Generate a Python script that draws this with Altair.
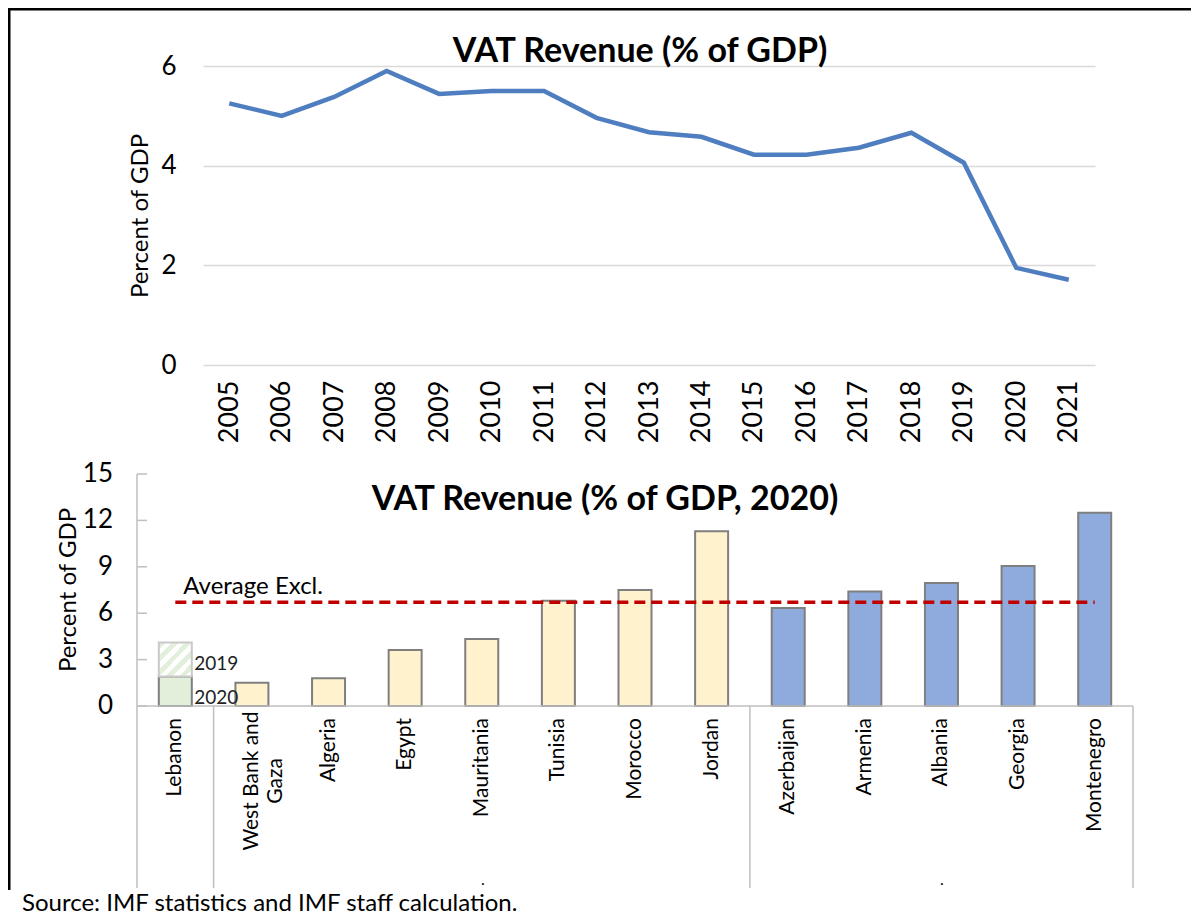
import altair as alt
import pandas as pd

# ---------------- data ----------------
years = [str(y) for y in range(2005, 2022)]
vat_gdp = [5.25, 5.0, 5.38, 5.9, 5.44, 5.5, 5.5, 4.96, 4.67, 4.58, 4.22, 4.22, 4.36, 4.66, 4.06, 1.95, 1.71]

countries = ["Lebanon", "West Bank and Gaza", "Algeria", "Egypt", "Mauritania", "Tunisia",
             "Morocco", "Jordan", "Azerbaijan", "Armenia", "Albania", "Georgia", "Montenegro"]
country_labels = ["Lebanon", "West Bank and\nGaza", "Algeria", "Egypt", "Mauritania", "Tunisia",
                  "Morocco", "Jordan", "Azerbaijan", "Armenia", "Albania", "Georgia", "Montenegro"]
vat_2020 = [1.9, 1.5, 1.8, 3.62, 4.33, 6.8, 7.5, 11.3, 6.33, 7.4, 7.95, 9.05, 12.5]
groups = ["Lebanon", "MENA", "MENA", "MENA", "MENA", "MENA", "MENA", "MENA",
          "Other", "Other", "Other", "Other", "Other"]
lebanon_2019 = 4.1
average_excl = 6.7
bottom_ticks = [0, 3, 6, 9, 12, 15]
left_separators = ["Lebanon", "West Bank and Gaza", "Azerbaijan"]
right_separators = ["Montenegro"]
two_line_label = "West Bank and Gaza"

top_df = pd.DataFrame({"year": years, "value": vat_gdp})
bar_df = pd.DataFrame({"country": countries, "label": country_labels, "value": vat_2020, "group": groups})
tick_df = pd.DataFrame({"tick": bottom_ticks, "t": [str(t) for t in bottom_ticks]})

W, H = 1183, 907
FONT = "Lato"

# ---------------- top chart ----------------
tx = alt.Scale(type="point", domain=years, range=[195, 1087], padding=0.5)
ty = alt.Scale(domain=[0, 6], range=[357, 58], nice=False)

top_line = alt.Chart(top_df).mark_line(color="#4F7EC0", strokeWidth=4.5).encode(
    x=alt.X("year:N", sort=years, scale=tx,
            axis=alt.Axis(orient="bottom", offset=357 - H, title=None, domain=False, ticks=False,
                          labelAngle=-90, labelFontSize=27, labelPadding=15, grid=False,
                          labelOverlap=False)),
    y=alt.Y("value:Q", scale=ty,
            axis=alt.Axis(orient="left", offset=-195, values=[0, 2, 4, 6], domain=False, ticks=False,
                          grid=True, gridColor="#D9D9D9", gridWidth=1.5, labelFontSize=26,
                          labelPadding=27, title="Percent of GDP", titleFontSize=24,
                          titlePadding=8, titleFontWeight="normal")),
)

top_title = alt.Chart(alt.Data(values=[{"t": "VAT Revenue (% of GDP)"}])).mark_text(
    font=FONT, fontSize=34, fontWeight="bold", align="center", baseline="alphabetic", color="black"
).encode(x=alt.value(632), y=alt.value(54), text="t:N")

top = alt.layer(top_line, top_title)

# ---------------- bottom chart ----------------
bx = alt.Scale(type="band", domain=countries, range=[129, 1125], paddingInner=0, paddingOuter=0)
by = alt.Scale(domain=[0, 15], range=[698, 466], nice=False)

hidden_x = alt.Axis(orient="bottom", offset=698 - H, title=None, labels=False, domain=False,
                    ticks=False, grid=False)
hidden_y = alt.Axis(orient="left", offset=-129, title=None, labels=False, domain=False,
                    ticks=False, grid=False)

bars = alt.Chart(bar_df).mark_bar(size=33, stroke="#7F7F7F", strokeWidth=2).encode(
    x=alt.X("country:N", sort=countries, scale=bx, axis=hidden_x),
    y=alt.Y("value:Q", scale=by, axis=hidden_y),
    color=alt.Color("group:N", scale=alt.Scale(domain=["Lebanon", "MENA", "Other"],
                                               range=["#E2EFDA", "#FFF2CC", "#8FAADC"]), legend=None),
)

stops = []
n = 5
for i in range(n):
    a, b, c = i / n, (i + 0.5) / n, (i + 1) / n
    stops += [{"offset": a, "color": "#E2EFDA"}, {"offset": b, "color": "#E2EFDA"},
              {"offset": b, "color": "#FFFFFF"}, {"offset": c, "color": "#FFFFFF"}]
hatch = {"gradient": "linear", "x1": 0, "y1": 0, "x2": 1, "y2": 1, "stops": stops}

leb19 = alt.Chart(alt.Data(values=[{"country": "Lebanon", "value": vat_2020[0], "v19": lebanon_2019}])).mark_bar(
    size=33, fill=hatch, stroke="#C9C9C9", strokeWidth=2
).encode(
    x=alt.X("country:N", sort=countries, scale=bx, axis=None),
    y=alt.Y("value:Q", scale=by, axis=None),
    y2="v19:Q",
)

avg_line = alt.Chart(bar_df).mark_line(color="#C00000", strokeWidth=3.5, strokeDash=[11, 6]).encode(
    x=alt.X("country:N", sort=countries, scale=bx, axis=None),
    y=alt.datum(average_excl, scale=by),
)

avg_text = alt.Chart(alt.Data(values=[{"country": "Lebanon", "value": average_excl, "t": "Average Excl."}])).mark_text(
    font=FONT, fontSize=24, align="left", baseline="alphabetic", dx=8, dy=-8, color="black"
).encode(
    x=alt.X("country:N", sort=countries, scale=bx, axis=None),
    y=alt.Y("value:Q", scale=by, axis=None),
    text="t:N",
)

year_labels = alt.Chart(alt.Data(values=[
    {"country": "Lebanon", "value": lebanon_2019, "t": "2019"},
    {"country": "Lebanon", "value": vat_2020[0], "t": "2020"},
])).mark_text(font=FONT, fontSize=19, align="left", baseline="middle", dx=19, dy=21, color="#222222").encode(
    x=alt.X("country:N", sort=countries, scale=bx, axis=None),
    y=alt.Y("value:Q", scale=by, axis=None),
    text="t:N",
)

# y axis drawn from the y scale
tick_rules = alt.Chart(tick_df).mark_rule(color="#BFBFBF", strokeWidth=1.5).encode(
    y=alt.Y("tick:Q", scale=by, axis=None),
    x=alt.value(129), x2=alt.value(139),
)
tick_labels = alt.Chart(tick_df).mark_text(
    font=FONT, fontSize=26, align="right", baseline="middle", color="black"
).encode(y=alt.Y("tick:Q", scale=by, axis=None), x=alt.value(105), text="t:N")
y_domain = alt.Chart(alt.Data(values=[{"a": bottom_ticks[0], "b": bottom_ticks[-1]}])).mark_rule(
    color="#BFBFBF", strokeWidth=1.5
).encode(y=alt.Y("a:Q", scale=by, axis=None), y2="b:Q", x=alt.value(129))
y_title = alt.Chart(alt.Data(values=[{"t": "Percent of GDP"}])).mark_text(
    font=FONT, fontSize=24, angle=270, align="center", baseline="middle", color="black"
).encode(x=alt.value(61), y=alt.value(582), text="t:N")

# x axis drawn from the x scale
x_domain = alt.Chart(alt.Data(values=[{"a": 0}])).mark_rule(color="#BFBFBF", strokeWidth=1.5).encode(
    y=alt.Y("a:Q", scale=by, axis=None), x=alt.value(129), x2=alt.value(1125))
x_labels = alt.Chart(bar_df).transform_filter(
    alt.datum.country != two_line_label
).mark_text(
    font=FONT, fontSize=21, angle=270, align="right", baseline="middle", color="black"
).encode(x=alt.X("country:N", sort=countries, scale=bx, axis=None), y=alt.value(710), text="label:N")
x_label_two = alt.Chart(bar_df).transform_filter(
    alt.datum.country == two_line_label
).mark_text(
    font=FONT, fontSize=21, angle=270, align="center", baseline="middle", lineBreak="\n",
    lineHeight=24, color="black"
).encode(x=alt.X("country:N", sort=countries, scale=bx, axis=None), y=alt.value(773), text="label:N")

sep_left = alt.Chart(alt.Data(values=[{"country": c} for c in left_separators])).mark_rule(
    color="#BFBFBF", strokeWidth=1.5
).encode(
    x=alt.X("country:N", sort=countries, scale=bx, axis=None, bandPosition=0),
    y=alt.value(698), y2=alt.value(880),
)
sep_right = alt.Chart(alt.Data(values=[{"country": c} for c in right_separators])).mark_rule(
    color="#BFBFBF", strokeWidth=1.5
).encode(
    x=alt.X("country:N", sort=countries, scale=bx, axis=None, bandPosition=1),
    y=alt.value(698), y2=alt.value(880),
)

bottom_title = alt.Chart(alt.Data(values=[{"t": "VAT Revenue (% of GDP, 2020)"}])).mark_text(
    font=FONT, fontSize=34, fontWeight="bold", align="center", baseline="alphabetic", color="black"
).encode(x=alt.value(597), y=alt.value(502), text="t:N")

def dot(px):
    return alt.Chart(alt.Data(values=[{"t": "."}])).mark_text(
        font=FONT, fontSize=16, align="center", baseline="alphabetic", color="black"
    ).encode(x=alt.value(px), y=alt.value(877), text="t:N")

source = alt.Chart(alt.Data(values=[{"t": "Source: IMF statistics and IMF staff calculation."}])).mark_text(
    font=FONT, fontSize=24, align="left", baseline="alphabetic", color="black"
).encode(x=alt.value(14), y=alt.value(903), text="t:N")

frame_top = alt.Chart(alt.Data(values=[{"t": 0}])).mark_rule(color="black", strokeWidth=3).encode(
    x=alt.value(0), x2=alt.value(W), y=alt.value(1))
frame_left = alt.Chart(alt.Data(values=[{"t": 0}])).mark_rule(color="black", strokeWidth=3).encode(
    x=alt.value(1), y=alt.value(0), y2=alt.value(882))

bottom = alt.layer(sep_left, sep_right, bars, x_domain, y_domain, tick_rules, tick_labels, y_title,
                   x_labels, x_label_two, leb19, avg_line, avg_text, year_labels,
                   bottom_title, dot(475), dot(934), source, frame_top, frame_left)

chart = alt.layer(top, bottom).resolve_scale(x="independent", y="independent").properties(
    width=W, height=H, padding=0, autosize=alt.AutoSizeParams(type="none")
).configure_view(strokeOpacity=0).configure_axis(
    labelFont=FONT, titleFont=FONT, labelColor="black", titleColor="black"
)

chart.save("out.html", embed_options={"renderer": "svg", "actions": False})
